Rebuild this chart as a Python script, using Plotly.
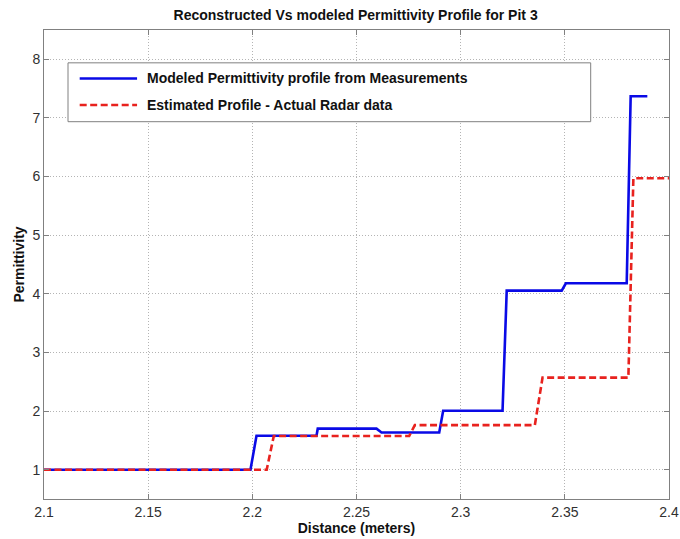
import plotly.graph_objects as go

# Modeled permittivity profile (from measurements)
modeled_x = [2.1, 2.1991, 2.2020, 2.2308, 2.2314, 2.2596, 2.2620, 2.2897, 2.2916,
             2.3201, 2.3221, 2.3485, 2.3505, 2.3797, 2.3816, 2.3896]
modeled_y = [1.0, 1.0, 1.58, 1.58, 1.70, 1.70, 1.635, 1.635, 2.005,
             2.005, 4.055, 4.055, 4.18, 4.18, 7.37, 7.37]

# Estimated profile from actual radar data
estimated_x = [2.1, 2.2069, 2.2103, 2.2753, 2.2780, 2.3356, 2.3393, 2.3805, 2.3829, 2.4]
estimated_y = [1.0, 1.0, 1.575, 1.575, 1.76, 1.76, 2.57, 2.57, 5.97, 5.97]

series_names = ["Modeled Permittivity profile from Measurements",
                "Estimated Profile - Actual Radar data"]

x_ticks = [2.1, 2.15, 2.2, 2.25, 2.3, 2.35, 2.4]
x_tick_text = ["2.1", "2.15", "2.2", "2.25", "2.3", "2.35", "2.4"]
y_ticks = [1, 2, 3, 4, 5, 6, 7, 8]

FONT = "Liberation Sans, Arial, Helvetica, sans-serif"
BLUE = "#0a0ae6"
RED = "#e8221e"
FRAME = "#808080"

blue_line = dict(color=BLUE, width=2.6)
red_line = dict(color=RED, width=2.6, dash="7px,3.5px")

fig = go.Figure()
fig.add_trace(go.Scatter(x=modeled_x, y=modeled_y, mode="lines",
                         name=series_names[0], line=blue_line, showlegend=False))
fig.add_trace(go.Scatter(x=estimated_x, y=estimated_y, mode="lines",
                         name=series_names[1], line=red_line, showlegend=False))

axis_common = dict(
    showgrid=True, gridcolor="#b4b4b4", griddash="1px,2px", gridwidth=1,
    showline=True, linecolor=FRAME, linewidth=1, mirror="allticks",
    ticks="inside", ticklen=5, tickcolor=FRAME,
    zeroline=False, automargin=False,
    tickfont=dict(family=FONT, size=14, color="#303030"),
)

fig.update_xaxes(
    range=[2.1, 2.4], tickvals=x_ticks, ticktext=x_tick_text,
    title=dict(text="<b>Distance (meters)</b>",
               font=dict(family=FONT, size=14, color="#111111"), standoff=2),
    **axis_common,
)
fig.update_yaxes(
    range=[0.5, 8.5], tickvals=y_ticks,
    title=dict(text="<b>Permittivity</b>",
               font=dict(family=FONT, size=14, color="#111111"), standoff=4),
    **axis_common,
)

# Legend box with line samples and labels
fig.add_shape(type="rect", xref="paper", yref="paper",
              x0=0.0384, x1=0.8747, y0=0.8045, y1=0.930,
              line=dict(color=FRAME, width=1), fillcolor="white", layer="above")
legend_rows = [(0.8966, blue_line), (0.8401, red_line)]
for (ypos, style), label in zip(legend_rows, series_names):
    fig.add_shape(type="line", xref="paper", yref="paper",
                  x0=0.0571, x1=0.1489, y0=ypos, y1=ypos,
                  line=style, layer="above")
    fig.add_annotation(xref="paper", yref="paper", x=0.1612, y=ypos,
                       xanchor="left", yanchor="middle", showarrow=False,
                       text="<b>" + label + "</b>",
                       font=dict(family=FONT, size=14, color="#111111"))

fig.update_layout(
    width=680, height=539,
    margin=dict(l=44, r=11, t=30, b=40),
    paper_bgcolor="white", plot_bgcolor="white",
    title=dict(text="<b>Reconstructed Vs modeled Permittivity Profile for Pit 3</b>",
               x=0.523, xanchor="center", y=0.972, yanchor="middle",
               font=dict(family=FONT, size=14, color="#111111")),
    showlegend=False,
)

fig.write_html("out.html")
